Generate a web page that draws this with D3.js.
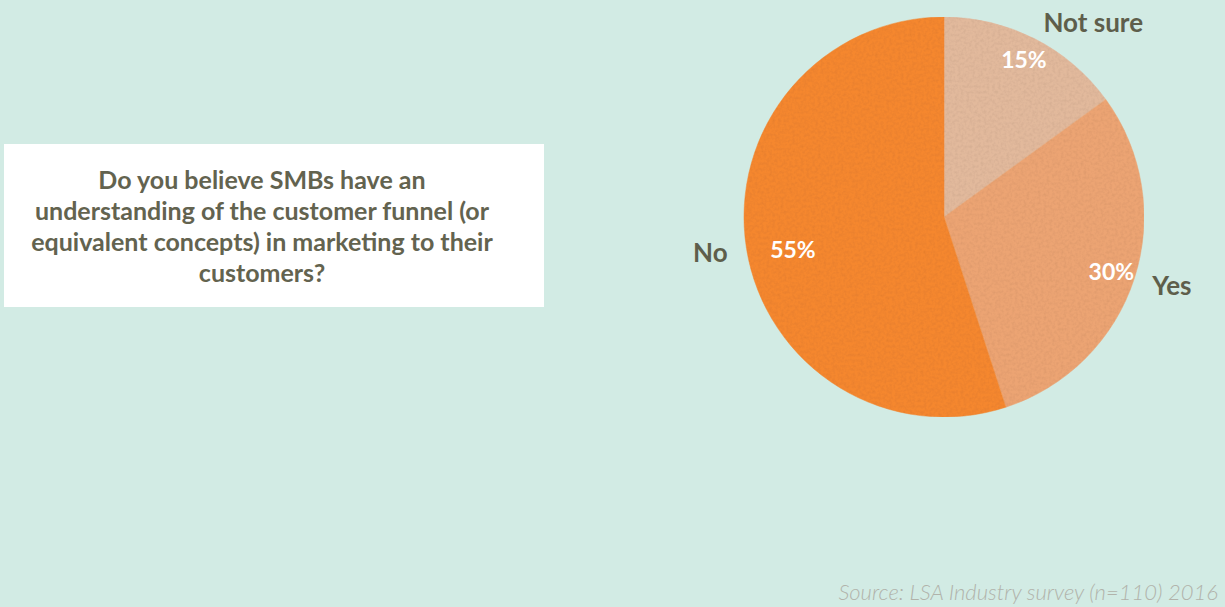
<!DOCTYPE html>
<html>
<head>
<meta charset="utf-8">
<script src="https://cdn.jsdelivr.net/npm/d3@7"></script>
<style>
  html, body { margin: 0; padding: 0; background: #d2ebe4; }
  svg { display: block; }
</style>
</head>
<body>
<svg id="chart" width="1225" height="607"></svg>
<script>
// Survey answers, in drawing order (clockwise from 12 o'clock)
const categories = ["Not sure", "Yes", "No"];
const shares = [15, 30, 55];
const sliceColors = ["#e2b99c", "#eca473", "#f5872f"];

const questionLines = [
  "Do you believe SMBs have an",
  "understanding of the customer funnel (or",
  "equivalent concepts) in marketing to their",
  "customers?"
];
const sourceNote = "Source: LSA Industry survey (n=110) 2016";

const W = 1225, H = 607;
const svg = d3.select("#chart");

svg.append("rect").attr("width", W).attr("height", H).attr("fill", "#d2ebe4");

// Faint paper grain for the pie
const defs = svg.append("defs");
const grain = defs.append("filter").attr("id", "grain")
  .attr("x", "0%").attr("y", "0%").attr("width", "100%").attr("height", "100%");
grain.append("feTurbulence").attr("type", "fractalNoise")
  .attr("baseFrequency", "0.35 0.35").attr("numOctaves", 2).attr("seed", 7).attr("result", "noise");
grain.append("feColorMatrix").attr("in", "noise").attr("type", "matrix")
  .attr("values", "0 0 0 0 0  0 0 0 0 0  0 0 0 0 0  0 0 0 0.22 -0.08").attr("result", "shade");
grain.append("feComposite").attr("in", "shade").attr("in2", "SourceGraphic").attr("operator", "in").attr("result", "clipShade");
grain.append("feComposite").attr("in", "clipShade").attr("in2", "SourceGraphic").attr("operator", "over");

// Question box
const box = svg.append("g");
box.append("rect").attr("x", 4).attr("y", 144).attr("width", 540).attr("height", 163).attr("fill", "#ffffff");
box.append("text")
  .attr("text-anchor", "middle")
  .attr("font-family", "Lato, sans-serif")
  .attr("font-weight", 700)
  .attr("font-size", 25)
  .attr("fill", "#63634f")
  .selectAll("tspan")
  .data(questionLines)
  .join("tspan")
  .attr("x", 262)
  .attr("y", (d, i) => 189 + i * 31)
  .text(d => d);

// Pie
const cx = 944, cy = 217, R = 200;
const data = categories.map((c, i) => ({ category: c, value: shares[i], color: sliceColors[i] }));
const pie = d3.pie().value(d => d.value).sort(null);
const arcs = pie(data);
const arc = d3.arc().innerRadius(0).outerRadius(R);

const g = svg.append("g").attr("transform", `translate(${cx},${cy})`);
const slices = g.append("g").attr("filter", "url(#grain)");
slices.selectAll("path")
  .data(arcs)
  .join("path")
  .attr("d", arc)
  .attr("fill", d => d.data.color)
  .attr("stroke", d => d.data.color)
  .attr("stroke-width", 0.5);

const midAngle = d => (d.startAngle + d.endAngle) / 2;

// Percent labels inside the slices
const inner = d3.arc().innerRadius(176).outerRadius(176);
g.selectAll("text.pct")
  .data(arcs)
  .join("text")
  .attr("class", "pct")
  .attr("transform", d => `translate(${inner.centroid(d)})`)
  .attr("text-anchor", d => midAngle(d) > Math.PI ? "start" : "middle")
  .attr("dy", d => midAngle(d) > Math.PI ? "0.6em" : "0.36em")
  .attr("font-family", "Lato, sans-serif")
  .attr("font-weight", 700)
  .attr("font-size", 23)
  .attr("fill", "#ffffff")
  .text(d => d.data.value + "%");

// Category labels outside the pie
const outer = d3.arc().innerRadius(219).outerRadius(219);
g.selectAll("text.cat")
  .data(arcs)
  .join("text")
  .attr("class", "cat")
  .attr("transform", d => `translate(${outer.centroid(d)})`)
  .attr("text-anchor", d => midAngle(d) > Math.PI ? "end" : "start")
  .attr("dy", "0.4em")
  .attr("font-family", "Lato, sans-serif")
  .attr("font-weight", 700)
  .attr("font-size", 26)
  .attr("fill", "#5e5e4b")
  .text(d => d.data.category);

// Source note
svg.append("text")
  .attr("x", 1218).attr("y", 600)
  .attr("text-anchor", "end")
  .attr("font-family", "Lato, sans-serif")
  .attr("font-style", "italic")
  .attr("font-weight", 300)
  .attr("font-size", 22)
  .attr("fill", "#b1b3ab")
  .text(sourceNote);
</script>
</body>
</html>
